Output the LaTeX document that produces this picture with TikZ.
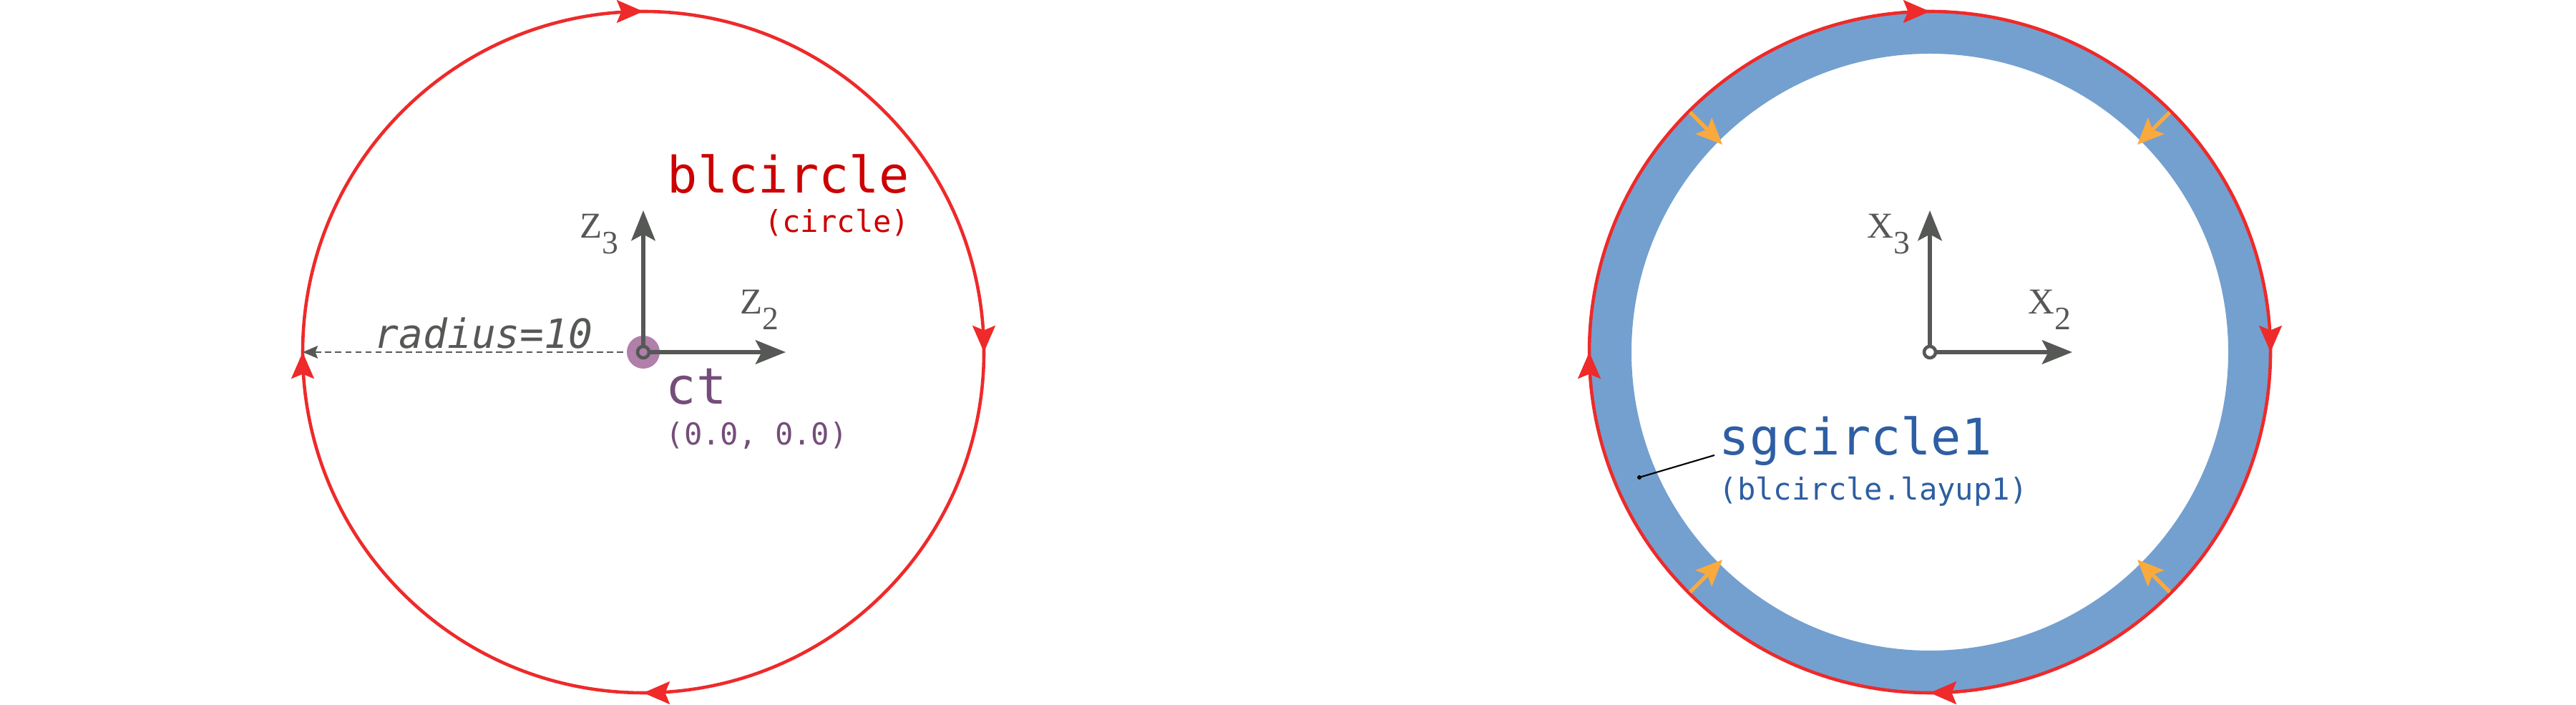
\documentclass[tikz,border=0pt]{standalone}
\usepackage{fontspec}
\setmainfont{Liberation Serif}
\setmonofont{DejaVu Sans Mono}
\usepackage{xcolor}
\usetikzlibrary{arrows.meta}
\usetikzlibrary{decorations.markings}
\definecolor{axisgray}{RGB}{85,88,84}
\definecolor{bdred}{RGB}{238,42,42}
\definecolor{lblred}{RGB}{204,0,0}
\definecolor{ctpurple}{RGB}{117,77,122}
\definecolor{ctdisk}{RGB}{176,127,170}
\definecolor{ringblue}{RGB}{116,160,207}
\definecolor{lblblue}{RGB}{46,94,163}
\definecolor{fiborange}{RGB}{250,170,60}
\newcommand{\axlab}[2]{{\fontsize{14.5}{14.5}\selectfont #1}\raisebox{-6pt}{\fontsize{13}{13}\selectfont #2}}
\tikzset{every node/.style={inner sep=0pt},
 axis/.style={draw=axisgray, line width=1.6pt, -{Stealth[length=12pt,width=9.5pt,inset=2.5pt]}},
 bdcircle/.style={draw=bdred, line width=1.3pt, postaction={decorate},
  decoration={markings, mark=between positions 0.125 and 1 step 0.25 with
  {\arrow{Stealth[length=10.5pt,width=9pt,inset=1.8pt]}}}},
 radline/.style={draw=axisgray, line width=0.8pt, dash pattern=on 2.5pt off 1.5pt,
  -{Stealth[length=6pt,width=5pt,inset=1pt]}},
 fibarrow/.style={draw=fiborange, line width=1.5pt, -{Stealth[length=10.5pt,width=9pt,inset=2pt]}},
 lblbig/.style={font=\ttfamily\fontsize{20}{20}\selectfont},
 lblsmall/.style={font=\ttfamily\fontsize{12}{12}\selectfont},
 }

\begin{document}
\begin{tikzpicture}
        \useasboundingbox (0,0) rectangle (36,9.85);
        \coordinate (lc) at (8.99,4.93);
        \coordinate (lcw) at (4.23,4.93);
        \coordinate (z3) at (8.99,6.91);
        \coordinate (z2) at (10.98,4.93);
        \coordinate (rc) at (26.97,4.93);
        \coordinate (x3) at (26.97,6.91);
        \coordinate (x2) at (28.96,4.93);
        \coordinate (sgdot) at (22.91,3.18);

        \draw[bdcircle] (lc) ++(135:4.76) arc[start angle=135, end angle=-225, radius=4.76];
        \draw[radline] (lc) -- (lcw);
        \fill[ctdisk] (lc) circle (0.23);
        \draw[axis] (lc) -- (z3);
        \draw[axis] (lc) -- (z2);
        \draw[axisgray, line width=1.3pt, fill=ctdisk] (lc) circle (0.08);
        \node[font=\ttfamily\itshape\fontsize{16}{16}\selectfont, text=axisgray, anchor=base] (rad) at (6.76,4.98) {radius=10};
        \node[anchor=base west, text=axisgray] (z3lbl) at (8.10,6.52) {\axlab{Z}{3}};
        \node[anchor=base west, text=axisgray] (z2lbl) at (10.34,5.46) {\axlab{Z}{2}};
        \node[lblbig, text=lblred, anchor=base east] (blname) at (12.72,7.15) {blcircle};
        \node[lblsmall, text=lblred, anchor=base east] (bltype) at (12.72,6.60) {(circle)};
        \node[lblbig, text=ctpurple, anchor=base west] (ctname) at (9.30,4.20) {ct};
        \node[lblsmall, text=ctpurple, anchor=base west] (ctpos) at (9.30,3.63) {(0.0, 0.0)};

        \draw[ringblue, line width=0.59cm] (rc) circle (4.465);
        \draw[bdcircle] (rc) ++(135:4.76) arc[start angle=135, end angle=-225, radius=4.76];
        \foreach \a in {45,135,225,315}
            \draw[fibarrow] ([shift={(\a:4.74)}]rc) -- ([shift={(\a:4.10)}]rc);
        \draw[axis] (rc) -- (x3);
        \draw[axis] (rc) -- (x2);
        \draw[axisgray, line width=1.3pt, fill=white] (rc) circle (0.08);
        \node[anchor=base west, text=axisgray] (x3lbl) at (26.09,6.52) {\axlab{X}{3}};
        \node[anchor=base west, text=axisgray] (x2lbl) at (28.34,5.46) {\axlab{X}{2}};
        \node[lblbig, text=lblblue, anchor=base west] (sgname) at (24.02,3.49) {sgcircle1};
        \node[lblsmall, text=lblblue, anchor=base west] (sgref) at (24.02,2.86) {(blcircle.layup1)};
        \fill (sgdot) circle (0.03);
        \draw[line width=0.6pt] (sgdot) -- ([xshift=-0.06cm]sgname.base west);
\end{tikzpicture}
\end{document}
